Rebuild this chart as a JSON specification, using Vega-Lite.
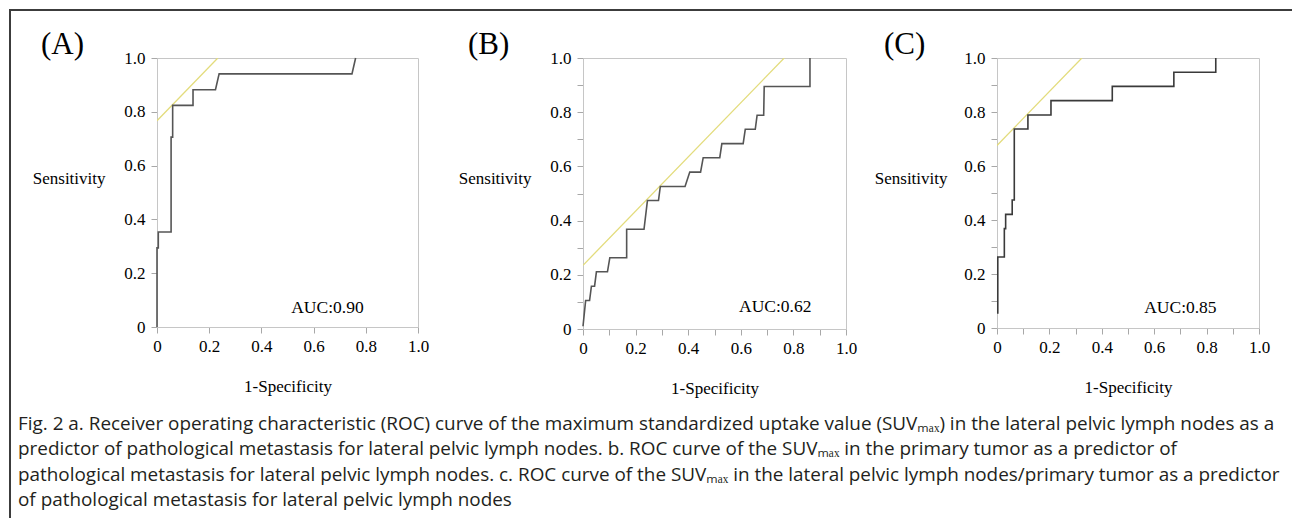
{
  "$schema": "https://vega.github.io/schema/vega-lite/v6.json",
  "background": "white",
  "padding": {"left": 9, "top": 9, "right": 0, "bottom": 0},
  "datasets": {
    "roc": [
      {"panel": "A", "i": 1, "fpr": 0, "tpr": 0},
      {"panel": "A", "i": 2, "fpr": 0, "tpr": 0.294},
      {"panel": "A", "i": 3, "fpr": 0.005, "tpr": 0.294},
      {"panel": "A", "i": 4, "fpr": 0.005, "tpr": 0.353},
      {"panel": "A", "i": 5, "fpr": 0.054, "tpr": 0.353},
      {"panel": "A", "i": 6, "fpr": 0.054, "tpr": 0.706},
      {"panel": "A", "i": 7, "fpr": 0.06, "tpr": 0.706},
      {"panel": "A", "i": 8, "fpr": 0.06, "tpr": 0.824},
      {"panel": "A", "i": 9, "fpr": 0.138, "tpr": 0.824},
      {"panel": "A", "i": 10, "fpr": 0.138, "tpr": 0.882},
      {"panel": "A", "i": 11, "fpr": 0.224, "tpr": 0.882},
      {"panel": "A", "i": 12, "fpr": 0.238, "tpr": 0.941},
      {"panel": "A", "i": 13, "fpr": 0.747, "tpr": 0.941},
      {"panel": "A", "i": 14, "fpr": 0.761, "tpr": 1.0},
      {"panel": "B", "i": 1, "fpr": 0, "tpr": 0.01},
      {"panel": "B", "i": 2, "fpr": 0.01, "tpr": 0.105},
      {"panel": "B", "i": 3, "fpr": 0.025, "tpr": 0.105},
      {"panel": "B", "i": 4, "fpr": 0.032, "tpr": 0.158},
      {"panel": "B", "i": 5, "fpr": 0.044, "tpr": 0.158},
      {"panel": "B", "i": 6, "fpr": 0.051, "tpr": 0.211},
      {"panel": "B", "i": 7, "fpr": 0.093, "tpr": 0.211},
      {"panel": "B", "i": 8, "fpr": 0.102, "tpr": 0.263},
      {"panel": "B", "i": 9, "fpr": 0.166, "tpr": 0.263},
      {"panel": "B", "i": 10, "fpr": 0.166, "tpr": 0.368},
      {"panel": "B", "i": 11, "fpr": 0.232, "tpr": 0.368},
      {"panel": "B", "i": 12, "fpr": 0.245, "tpr": 0.474},
      {"panel": "B", "i": 13, "fpr": 0.287, "tpr": 0.474},
      {"panel": "B", "i": 14, "fpr": 0.294, "tpr": 0.526},
      {"panel": "B", "i": 15, "fpr": 0.388, "tpr": 0.526},
      {"panel": "B", "i": 16, "fpr": 0.406, "tpr": 0.579},
      {"panel": "B", "i": 17, "fpr": 0.447, "tpr": 0.579},
      {"panel": "B", "i": 18, "fpr": 0.457, "tpr": 0.632},
      {"panel": "B", "i": 19, "fpr": 0.52, "tpr": 0.632},
      {"panel": "B", "i": 20, "fpr": 0.528, "tpr": 0.684},
      {"panel": "B", "i": 21, "fpr": 0.609, "tpr": 0.684},
      {"panel": "B", "i": 22, "fpr": 0.617, "tpr": 0.737},
      {"panel": "B", "i": 23, "fpr": 0.655, "tpr": 0.737},
      {"panel": "B", "i": 24, "fpr": 0.662, "tpr": 0.789},
      {"panel": "B", "i": 25, "fpr": 0.687, "tpr": 0.789},
      {"panel": "B", "i": 26, "fpr": 0.689, "tpr": 0.895},
      {"panel": "B", "i": 27, "fpr": 0.863, "tpr": 0.895},
      {"panel": "B", "i": 28, "fpr": 0.863, "tpr": 1.0},
      {"panel": "C", "i": 1, "fpr": 0.003, "tpr": 0.053},
      {"panel": "C", "i": 2, "fpr": 0.003, "tpr": 0.263},
      {"panel": "C", "i": 3, "fpr": 0.028, "tpr": 0.263},
      {"panel": "C", "i": 4, "fpr": 0.028, "tpr": 0.368},
      {"panel": "C", "i": 5, "fpr": 0.033, "tpr": 0.368},
      {"panel": "C", "i": 6, "fpr": 0.033, "tpr": 0.421},
      {"panel": "C", "i": 7, "fpr": 0.058, "tpr": 0.421},
      {"panel": "C", "i": 8, "fpr": 0.058, "tpr": 0.474},
      {"panel": "C", "i": 9, "fpr": 0.066, "tpr": 0.474},
      {"panel": "C", "i": 10, "fpr": 0.066, "tpr": 0.737},
      {"panel": "C", "i": 11, "fpr": 0.118, "tpr": 0.737},
      {"panel": "C", "i": 12, "fpr": 0.118, "tpr": 0.789},
      {"panel": "C", "i": 13, "fpr": 0.206, "tpr": 0.789},
      {"panel": "C", "i": 14, "fpr": 0.206, "tpr": 0.842},
      {"panel": "C", "i": 15, "fpr": 0.44, "tpr": 0.842},
      {"panel": "C", "i": 16, "fpr": 0.44, "tpr": 0.895},
      {"panel": "C", "i": 17, "fpr": 0.675, "tpr": 0.895},
      {"panel": "C", "i": 18, "fpr": 0.675, "tpr": 0.947},
      {"panel": "C", "i": 19, "fpr": 0.835, "tpr": 0.947},
      {"panel": "C", "i": 20, "fpr": 0.835, "tpr": 1.0}
    ],
    "tangent": [
      {"panel": "A", "fpr": 0, "tpr": 0.767},
      {"panel": "A", "fpr": 0.233, "tpr": 1.0},
      {"panel": "B", "fpr": 0, "tpr": 0.235},
      {"panel": "B", "fpr": 0.765, "tpr": 1.0},
      {"panel": "C", "fpr": 0, "tpr": 0.676},
      {"panel": "C", "fpr": 0.324, "tpr": 1.0}
    ],
    "auc": [
      {"panel": "A", "label": "AUC:0.90"},
      {"panel": "B", "label": "AUC:0.62"},
      {"panel": "C", "label": "AUC:0.85"}
    ]
  },
  "config": {
    "view": {"stroke": "#c6c6c6", "strokeWidth": 1},
    "axis": {
      "grid": false,
      "labelFont": "Liberation Serif",
      "labelFontSize": 17,
      "labelColor": "#000000",
      "titleFont": "Liberation Serif",
      "titleFontSize": 17,
      "titleFontWeight": "normal",
      "titleColor": "#000000",
      "tickColor": "#a8a8a8",
      "domainColor": "#c6c6c6",
      "tickSize": 6,
      "labelFlush": false,
      "labelOverlap": false
    },
    "axisX": {"labelPadding": 5, "titlePadding": 24},
    "axisY": {"labelPadding": 6, "titleAngle": 0, "titleAlign": "right", "titleBaseline": "middle", "titleY": 120, "titleX": -52},
    "title": {"font": "Liberation Serif", "fontSize": 31, "fontWeight": "normal", "color": "#000000"}
  },
  "spacing": 0,
  "hconcat": [
    {
      "width": 2, "height": 509,
      "view": {"fill": "#3c3c3c", "stroke": null},
      "data": {"values": []},
      "mark": "point"
    },
    {
      "spacing": 17,
      "vconcat": [
        {
          "width": 1281, "height": 2,
          "view": {"fill": "#3c3c3c", "stroke": null},
          "data": {"values": []},
          "mark": "point"
        },
        {
          "spacing": 17,
          "vconcat": [
            {
              "spacing": 19,
              "hconcat": [
                {
                  "width": 1, "height": 10,
                  "view": {"stroke": null},
                  "data": {"values": []},
                  "mark": "point"
                },
                {
                  "spacing": 27,
                  "hconcat": [
                    {
                      "width": 261, "height": 269,
                      "title": {"text": "(A)", "anchor": "start", "frame": "group", "dx": -116, "baseline": "alphabetic", "offset": 0, "dy": 36},
                      "layer": [
                        {"data": {"name": "tangent"}, "transform": [{"filter": "datum.panel === 'A'"}],
                          "mark": {"type": "line", "color": "#e3dc7c", "strokeWidth": 1.3, "clip": true},
                          "encoding": {
                            "x": {"field": "fpr", "type": "quantitative", "scale": {"domain": [0, 1], "nice": false, "zero": false},
                              "axis": {"title": "1-Specificity", "values": [0, 0.2, 0.4, 0.6, 0.8, 1], "labelExpr": "datum.value == 0 ? '0' : format(datum.value, '.1f')"}},
                            "y": {"field": "tpr", "type": "quantitative", "scale": {"domain": [0, 1], "nice": false, "zero": false},
                              "axis": {"title": "Sensitivity", "values": [0, 0.2, 0.4, 0.6, 0.8, 1], "labelExpr": "datum.value == 0 ? '0' : format(datum.value, '.1f')"}}
                          }},
                        {"data": {"name": "roc"}, "transform": [{"filter": "datum.panel === 'A'"}],
                          "mark": {"type": "line", "color": "#555555", "strokeWidth": 1.6},
                          "encoding": {
                            "x": {"field": "fpr", "type": "quantitative", "scale": {"domain": [0, 1], "nice": false, "zero": false},
                              "axis": {"title": "1-Specificity", "values": [0, 0.2, 0.4, 0.6, 0.8, 1], "labelExpr": "datum.value == 0 ? '0' : format(datum.value, '.1f')"}},
                            "y": {"field": "tpr", "type": "quantitative", "scale": {"domain": [0, 1], "nice": false, "zero": false},
                              "axis": {"title": "Sensitivity", "values": [0, 0.2, 0.4, 0.6, 0.8, 1], "labelExpr": "datum.value == 0 ? '0' : format(datum.value, '.1f')"}},
                            "order": {"field": "i", "type": "quantitative"}
                          }},
                        {"data": {"name": "auc"}, "transform": [{"filter": "datum.panel === 'A'"}],
                          "mark": {"type": "text", "font": "Liberation Serif", "fontSize": 17.5, "color": "#000000"},
                          "encoding": {
                            "x": {"datum": 0.653, "type": "quantitative", "scale": {"domain": [0, 1], "nice": false, "zero": false},
                              "axis": {"title": "1-Specificity", "values": [0, 0.2, 0.4, 0.6, 0.8, 1], "labelExpr": "datum.value == 0 ? '0' : format(datum.value, '.1f')"}},
                            "y": {"datum": 0.07, "type": "quantitative", "scale": {"domain": [0, 1], "nice": false, "zero": false},
                              "axis": {"title": "Sensitivity", "values": [0, 0.2, 0.4, 0.6, 0.8, 1], "labelExpr": "datum.value == 0 ? '0' : format(datum.value, '.1f')"}},
                            "text": {"field": "label", "type": "nominal"}
                          }}
                      ]
                    },
                    {
                      "spacing": 15,
                      "hconcat": [
                        {
                          "width": 263, "height": 271,
                          "title": {"text": "(B)", "anchor": "start", "frame": "group", "dx": -115, "baseline": "alphabetic", "offset": 0, "dy": 36},
                          "layer": [
                            {"data": {"name": "tangent"}, "transform": [{"filter": "datum.panel === 'B'"}],
                              "mark": {"type": "line", "color": "#e3dc7c", "strokeWidth": 1.3, "clip": true},
                              "encoding": {
                                "x": {"field": "fpr", "type": "quantitative", "scale": {"domain": [0, 1], "nice": false, "zero": false},
                                  "axis": {"title": "1-Specificity", "values": [0, 0.1, 0.2, 0.3, 0.4, 0.5, 0.6, 0.7, 0.8, 0.9, 1], "labelExpr": "round(datum.value * 10) % 2 == 1 ? '' : (datum.value == 0 ? '0' : format(datum.value, '.1f'))"}},
                                "y": {"field": "tpr", "type": "quantitative", "scale": {"domain": [0, 1], "nice": false, "zero": false},
                                  "axis": {"title": "Sensitivity", "values": [0, 0.1, 0.2, 0.3, 0.4, 0.5, 0.6, 0.7, 0.8, 0.9, 1], "labelExpr": "round(datum.value * 10) % 2 == 1 ? '' : (datum.value == 0 ? '0' : format(datum.value, '.1f'))"}}
                              }},
                            {"data": {"name": "roc"}, "transform": [{"filter": "datum.panel === 'B'"}],
                              "mark": {"type": "line", "color": "#555555", "strokeWidth": 1.6},
                              "encoding": {
                                "x": {"field": "fpr", "type": "quantitative", "scale": {"domain": [0, 1], "nice": false, "zero": false},
                                  "axis": {"title": "1-Specificity", "values": [0, 0.1, 0.2, 0.3, 0.4, 0.5, 0.6, 0.7, 0.8, 0.9, 1], "labelExpr": "round(datum.value * 10) % 2 == 1 ? '' : (datum.value == 0 ? '0' : format(datum.value, '.1f'))"}},
                                "y": {"field": "tpr", "type": "quantitative", "scale": {"domain": [0, 1], "nice": false, "zero": false},
                                  "axis": {"title": "Sensitivity", "values": [0, 0.1, 0.2, 0.3, 0.4, 0.5, 0.6, 0.7, 0.8, 0.9, 1], "labelExpr": "round(datum.value * 10) % 2 == 1 ? '' : (datum.value == 0 ? '0' : format(datum.value, '.1f'))"}},
                                "order": {"field": "i", "type": "quantitative"}
                              }},
                            {"data": {"name": "auc"}, "transform": [{"filter": "datum.panel === 'B'"}],
                              "mark": {"type": "text", "font": "Liberation Serif", "fontSize": 17.5, "color": "#000000"},
                              "encoding": {
                                "x": {"datum": 0.731, "type": "quantitative", "scale": {"domain": [0, 1], "nice": false, "zero": false},
                                  "axis": {"title": "1-Specificity", "values": [0, 0.1, 0.2, 0.3, 0.4, 0.5, 0.6, 0.7, 0.8, 0.9, 1], "labelExpr": "round(datum.value * 10) % 2 == 1 ? '' : (datum.value == 0 ? '0' : format(datum.value, '.1f'))"}},
                                "y": {"datum": 0.08, "type": "quantitative", "scale": {"domain": [0, 1], "nice": false, "zero": false},
                                  "axis": {"title": "Sensitivity", "values": [0, 0.1, 0.2, 0.3, 0.4, 0.5, 0.6, 0.7, 0.8, 0.9, 1], "labelExpr": "round(datum.value * 10) % 2 == 1 ? '' : (datum.value == 0 ? '0' : format(datum.value, '.1f'))"}},
                                "text": {"field": "label", "type": "nominal"}
                              }}
                          ]
                        },
                        {
                          "width": 262, "height": 270,
                          "title": {"text": "(C)", "anchor": "start", "frame": "group", "dx": -113, "baseline": "alphabetic", "offset": 0, "dy": 36},
                          "layer": [
                            {"data": {"name": "tangent"}, "transform": [{"filter": "datum.panel === 'C'"}],
                              "mark": {"type": "line", "color": "#e3dc7c", "strokeWidth": 1.3, "clip": true},
                              "encoding": {
                                "x": {"field": "fpr", "type": "quantitative", "scale": {"domain": [0, 1], "nice": false, "zero": false},
                                  "axis": {"title": "1-Specificity", "values": [0, 0.1, 0.2, 0.3, 0.4, 0.5, 0.6, 0.7, 0.8, 0.9, 1], "labelExpr": "round(datum.value * 10) % 2 == 1 ? '' : (datum.value == 0 ? '0' : format(datum.value, '.1f'))"}},
                                "y": {"field": "tpr", "type": "quantitative", "scale": {"domain": [0, 1], "nice": false, "zero": false},
                                  "axis": {"title": "Sensitivity", "titleX": -50, "values": [0, 0.1, 0.2, 0.3, 0.4, 0.5, 0.6, 0.7, 0.8, 0.9, 1], "labelExpr": "round(datum.value * 10) % 2 == 1 ? '' : (datum.value == 0 ? '0' : format(datum.value, '.1f'))"}}
                              }},
                            {"data": {"name": "roc"}, "transform": [{"filter": "datum.panel === 'C'"}],
                              "mark": {"type": "line", "color": "#3a3a3a", "strokeWidth": 1.6},
                              "encoding": {
                                "x": {"field": "fpr", "type": "quantitative", "scale": {"domain": [0, 1], "nice": false, "zero": false},
                                  "axis": {"title": "1-Specificity", "values": [0, 0.1, 0.2, 0.3, 0.4, 0.5, 0.6, 0.7, 0.8, 0.9, 1], "labelExpr": "round(datum.value * 10) % 2 == 1 ? '' : (datum.value == 0 ? '0' : format(datum.value, '.1f'))"}},
                                "y": {"field": "tpr", "type": "quantitative", "scale": {"domain": [0, 1], "nice": false, "zero": false},
                                  "axis": {"title": "Sensitivity", "titleX": -50, "values": [0, 0.1, 0.2, 0.3, 0.4, 0.5, 0.6, 0.7, 0.8, 0.9, 1], "labelExpr": "round(datum.value * 10) % 2 == 1 ? '' : (datum.value == 0 ? '0' : format(datum.value, '.1f'))"}},
                                "order": {"field": "i", "type": "quantitative"}
                              }},
                            {"data": {"name": "auc"}, "transform": [{"filter": "datum.panel === 'C'"}],
                              "mark": {"type": "text", "font": "Liberation Serif", "fontSize": 17.5, "color": "#000000"},
                              "encoding": {
                                "x": {"datum": 0.70, "type": "quantitative", "scale": {"domain": [0, 1], "nice": false, "zero": false},
                                  "axis": {"title": "1-Specificity", "values": [0, 0.1, 0.2, 0.3, 0.4, 0.5, 0.6, 0.7, 0.8, 0.9, 1], "labelExpr": "round(datum.value * 10) % 2 == 1 ? '' : (datum.value == 0 ? '0' : format(datum.value, '.1f'))"}},
                                "y": {"datum": 0.075, "type": "quantitative", "scale": {"domain": [0, 1], "nice": false, "zero": false},
                                  "axis": {"title": "Sensitivity", "titleX": -50, "values": [0, 0.1, 0.2, 0.3, 0.4, 0.5, 0.6, 0.7, 0.8, 0.9, 1], "labelExpr": "round(datum.value * 10) % 2 == 1 ? '' : (datum.value == 0 ? '0' : format(datum.value, '.1f'))"}},
                                "text": {"field": "label", "type": "nominal"}
                              }}
                          ]
                        }
                      ]
                    }
                  ]
                }
              ]
            },
            {
              "width": 1270, "height": 1,
              "view": {"stroke": null},
              "data": {"values": []},
              "mark": "point",
              "title": {
                "text": [
                  "Fig. 2 a. Receiver operating characteristic (ROC) curve of the maximum standardized uptake value (SUVₘₐₓ) in the lateral pelvic lymph nodes as a",
                  "predictor of pathological metastasis for lateral pelvic lymph nodes. b. ROC curve of the SUVₘₐₓ in the primary tumor as a predictor of",
                  "pathological metastasis for lateral pelvic lymph nodes. c. ROC curve of the SUVₘₐₓ in the lateral pelvic lymph nodes/primary tumor as a predictor",
                  "of pathological metastasis for lateral pelvic lymph nodes"
                ],
                "orient": "bottom",
                "anchor": "start",
                "frame": "group",
                "baseline": "top",
                "offset": 0,
                "dx": 7,
                "font": "Open Sans",
                "fontSize": 18.9,
                "fontWeight": "normal",
                "color": "#231f20",
                "lineHeight": 25.3,
                "limit": 0
              }
            }
          ]
        }
      ]
    }
  ]
}
